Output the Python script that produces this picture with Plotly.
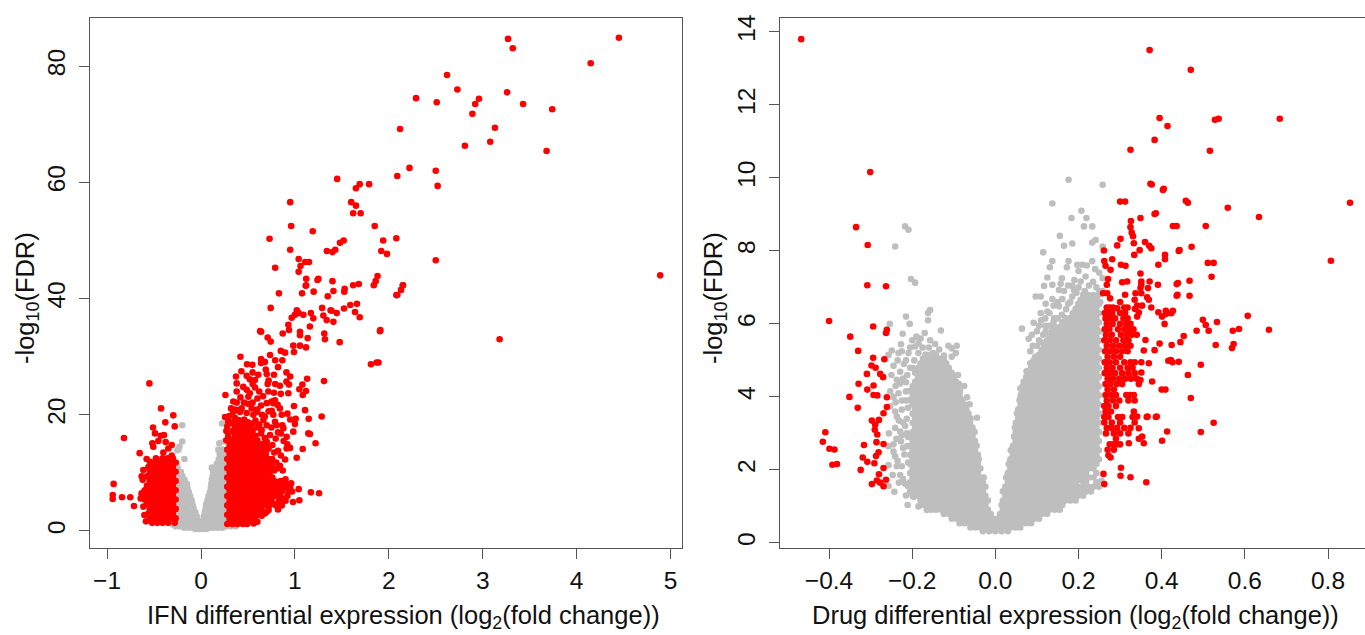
import plotly.graph_objects as go

# ---------- tick labels ----------
IFN_X_TICKS = [-1, 0, 1, 2, 3, 4, 5]
IFN_Y_TICKS = [0, 20, 40, 60, 80]
DRUG_X_TICKS = [-0.4, -0.2, 0.0, 0.2, 0.4, 0.6, 0.8]
DRUG_X_TEXT = ["−0.4", "−0.2", "0.0", "0.2", "0.4", "0.6", "0.8"]
DRUG_Y_TICKS = [0, 2, 4, 6, 8, 10, 12, 14]

# ---------- IFN panel : rows of (y, [x, ...]) ----------
IFN_GRAY_ROWS = [
 (.35,[-.06,-.02,.02,.06]),
 (.55,[-.18,-.13,-.09,.09,.13,.18,.23]),
 (.8,[-.27,-.23,.27,.32,.37]),
 (1.1,[-.30,-.25,-.20,-.15,-.10,-.05,0,.05,.10,.15,.20,.25,.30,.35]),
 (1.8,[-.27,-.22,-.17,-.12,-.07,-.03,.03,.07,.12,.17,.22,.27]),
 (2.5,[-.29,-.25,-.20,-.15,-.10,-.045,.03,.06,.10,.15,.20,.25]),
 (3.2,[-.27,-.22,-.17,-.12,-.06,.04,.08,.12,.17,.22,.27]),
 (3.9,[-.25,-.20,-.15,-.08,.05,.10,.15,.20,.25]),
 (4.6,[-.27,-.22,-.17,-.13,-.09,.055,.10,.13,.18,.23,.27]),
 (5.3,[-.25,-.20,-.15,-.10,.07,.12,.17,.22,.26]),
 (6.0,[-.27,-.22,-.17,-.115,.08,.13,.18,.23,.27]),
 (6.7,[-.25,-.20,-.16,-.13,.095,.14,.19,.24]),
 (7.4,[-.27,-.22,-.18,-.145,.105,.15,.20,.25]),
 (8.1,[-.25,-.20,-.15,.11,.16,.21,.26]),
 (8.8,[-.27,-.22,-.175,.115,.17,.22,.26]),
 (9.5,[-.25,-.20,.125,.18,.23]),
 (10.2,[-.26,-.215,.13,.19,.24]),
 (10.9,[-.25,.115,.15,.20,.25]),
 (11.6,[-.255,.17,.22,.26]),
 (12.4,[-.177,.19,.24]),
 (13.2,[.20,.25]),
 (14.0,[-.24,.23,.185]),
]
IFN_GRAY_SCATTER_X = [-.20, .224, -.20, -.23, -.252, .195, .25]
IFN_GRAY_SCATTER_Y = [18.2, 18.5, 15.4, 14.5, 13.9, 15.1, 15.4]

IFN_RED_ROWS = [
 (1.2,[.28,.335,.39,.445,.49]),
 (2.0,[.305,.36,.415,.47,.525,.57]),
 (2.8,[.28,.335,.39,.445,.50,.555,.62]),
 (3.6,[.305,.36,.415,.47,.525,.58,.64,.72]),
 (4.4,[.28,.335,.39,.445,.50,.555,.61,.665,.72,.80,.86]),
 (5.2,[.305,.36,.415,.47,.525,.58,.635,.69,.75,.83,.90]),
 (6.0,[.28,.335,.39,.445,.50,.555,.61,.665,.72,.78,.84,.92]),
 (6.8,[.305,.36,.415,.47,.525,.58,.635,.69,.745,.80,.86,.93]),
 (7.6,[.28,.335,.39,.445,.50,.555,.61,.665,.72,.78,.84,.89,.95]),
 (8.4,[.305,.36,.415,.47,.525,.58,.635,.69,.75,.80]),
 (9.2,[.28,.335,.39,.445,.50,.555,.61,.665,.70]),
 (10.0,[.305,.36,.415,.47,.525,.58,.635,.68,.73]),
 (10.8,[.28,.335,.39,.445,.50,.555,.61,.665,.72,.77]),
 (11.6,[.305,.36,.415,.47,.525,.58,.635,.69,.74]),
 (12.4,[.28,.335,.39,.445,.50,.555,.61,.665,.72,.76]),
 (13.2,[.305,.36,.415,.47,.525,.58,.635,.69]),
 (14.0,[.28,.335,.39,.445,.50,.555,.61,.665,.70]),
 (14.8,[.305,.36,.415,.47,.525,.58,.635,.69]),
 (15.6,[.27,.33,.39,.445,.50,.555,.60]),
 (16.4,[.29,.36,.415,.47,.53,.58]),
 (17.2,[.27,.335,.39,.445,.50,.55]),
 (18.0,[.28,.36,.415,.47,.53]),
 (18.8,[.30,.39,.45]),
 (1.4,[-.28,-.35,-.41,-.465,-.52]),
 (2.2,[-.27,-.325,-.38,-.435,-.49,-.545]),
 (3.0,[-.30,-.355,-.41,-.465,-.52,-.56]),
 (3.8,[-.27,-.325,-.38,-.435,-.49,-.545]),
 (4.6,[-.30,-.355,-.41,-.465,-.52,-.575]),
 (5.4,[-.27,-.325,-.38,-.435,-.49,-.545,-.60]),
 (6.2,[-.30,-.355,-.41,-.465,-.52,-.575,-.63]),
 (7.0,[-.27,-.325,-.38,-.435,-.49,-.545,-.60]),
 (7.8,[-.30,-.355,-.41,-.465,-.52,-.575]),
 (8.6,[-.27,-.325,-.38,-.435,-.49,-.545]),
 (9.4,[-.30,-.355,-.41,-.465,-.52,-.575]),
 (10.2,[-.27,-.325,-.38,-.435,-.49,-.545]),
 (11.0,[-.30,-.355,-.41,-.465,-.52,-.56]),
 (11.8,[-.27,-.325,-.38,-.435,-.49]),
 (12.5,[-.30,-.355,-.41,-.48]),
]
IFN_RED_PAIRS = [
 (-.55,25.4),(-.426,21.1),(-.295,19.9),(-.38,18.7),(-.28,18),(-.511,17.8),(-.82,16),(-.49,16.8),(-.394,16.5),(-.43,16.4),
 (-.454,15.5),(-.376,15.3),(-.518,15.1),(-.508,14.5),(-.312,14.8),(-.348,14.2),(-.401,13.5),(-.653,13.4),(-.312,13),(-.579,12.4),
 (-.543,11.9),(-.472,12.3),(-.614,10.5),(-.632,9.4),(-.621,8.8),(-.93,8.1),(-.94,6.2),(-.94,5.5),(-.841,5.8),(-.753,5.8),
 (-.714,4.3),(-.603,2.75),(-.586,1.66),(-.632,6.5),(-.642,5.6),(-.614,4.2),
 (1.04,7.2),(1.17,6.65),(1.257,6.5),(1.047,5.3),(.98,5),(.82,3.7),(.7,3.3),(.646,2.6),(.68,3),
 (.83,40.9),(1.115,42.2),(1.076,40.9),(1.2,41.2),(1.526,41.2),(1.84,42.3),(2.15,42.3),(2.09,40.6),(1.24,43.2),(1.4,43),
 (1.66,39.1),(.742,38.4),(1.02,38),(.966,36.7),(1.0,37.2),(1.04,37.5),(1.09,37.2),(1.17,37.5),(1.196,36.6),(1.303,37.1),
 (1.338,36.3),(1.39,37.9),(1.445,37.5),(1.523,38.3),(1.69,36.8),(1.16,35.2),(.93,35.5),(.937,34.6),(.64,34.3),(1.906,34.4),
 (1.054,34.3),(1.054,33.7),(1.313,34),(1.32,33),(1.136,33.2),(.71,33.3),(.742,32.6),(1.477,32.5),(.983,31.9),(1.054,31.9),
 (1.118,31.6),(.99,30.8),(.85,31),(.895,30.7),(.735,30.3),(.42,30),(.64,29.6),(.79,29.4),(.866,29.4),(.49,28.7),
 (.547,28.6),(.64,28.9),(.68,29.1),(.82,28.2),(1.81,28.7),(1.89,29),(.69,27.8),(.55,27.3),(.486,26.7),(.61,26.9),
 (.7,27),(.777,26.9),(.91,27.3),(.373,26.6),(.95,26.6),(1.13,26.2),(1.31,25.8),(.575,26),(.71,25.3),(.79,25.3),
 (.91,25.7),(.937,25.2),(.84,25),(1.08,25.2),(1.047,24.4),(1.118,24.1),(1.083,23.4),(.38,25.4),(.38,24),(.486,24.3),
 (.52,23.7),(.575,24.7),(.717,24),(.777,23.8),(.93,23.7),(.26,23.4),(.6,22.8),(.504,23.1),(.788,22.5),(.344,22.3),
 (.38,22.1),(.458,22.1),(.55,22.1),(.7,22),(.753,22.3),(.816,21.7),(.99,21.5),(.32,21.1),(.433,21.1),(.54,21.1),
 (.84,21.1),(1.108,20.8),(.344,20.5),(.415,20.5),(.486,20.3),(.593,20.5),(.753,20.7),(.68,19.7),(.77,20),(.557,20),
 (.256,19.6),(1.008,19.3),(1.147,19.3),(1.285,19.7),(.4,19.1),(.29,18.8),(.664,19.1),(.788,18.8),(1.0,18.4),(.866,18.2),
 (.877,17.7),(.806,18.2),(.983,17.1),(.912,16.2),(1.143,16.8),(1.16,16.7),(.646,17.4),(.735,16.5),(.795,15.9),(1.22,15.1),
 (.948,14.3),(.912,14.2),(1.083,14.1),(1.019,12.6),(.895,12.3),(.816,10.8),(.87,10.4),(.7,9.6),(.795,8.5),(.9,8.3),(.948,7),
 (.30,19.8),(.33,18.6),(.36,19.5),(.42,18.5),(.46,19.2),(.5,18.7),(.55,18.5),(.58,19),(.6,17.8),(.62,18.3),(.64,16.8),(.68,16),
 (.7,15.4),(.66,15),(.72,14.2),(.76,14.8),(.78,13.5),(.82,13.8),(.85,13),(.74,12),(.8,11.8),(.84,11.2),(.78,10.4),(.72,9.8),
 (.76,9.2),(.85,8.6),(.9,8.9),(.88,7.6),(.96,8.2),(.97,6.8),(.89,5.6),(.85,5),(.78,4.6),(.72,4.2),(.6,1.6),(.56,1.3),(.52,1.7),
 (.58,2.4),(.42,23),(.45,24.8),(.55,25.3),(.62,24),(.66,23.2),(.72,25.9),(.77,22),(.85,23.6),(.86,20),(.92,20.2),(.95,19.2),
 (.43,27.5),(.52,26.1),(.6,20.9),(.64,21.6),(.5,21.9),(.4,20.8),(.36,20.9),(.65,20),(.72,20.6),(.7,18.2),(.75,17.8),(.82,17),
 (.88,15.5),(.85,16.8),(.92,14.9),
 (3.27,84.7),(3.32,83.1),(4.45,84.9),(4.15,80.5),(2.62,78.5),(2.73,76),(2.29,74.5),(2.51,73.8),(2.96,74.4),(2.92,73.5),
 (2.89,71.8),(3.26,75.5),(3.43,73.5),(3.74,72.6),(3.13,69.4),(3.08,67),(2.81,66.3),(3.68,65.4),(2.12,69.2),(2.22,62.5),
 (2.09,61.1),(2.5,62),(2.52,59.4),(4.89,44),(3.18,33),(2.5,46.6),(1.45,60.6),(1.69,59.7),(1.79,59.7),(1.65,59),
 (1.6,56.6),(1.65,56),(1.62,54.7),(1.7,54.7),(.95,56.6),(1.85,52.5),(.96,52.5),(1.19,51.6),(2.08,50.4),(1.94,50),
 (1.92,48.2),(1.52,50),(1.48,49.6),(1.43,48.4),(1.34,48.2),(1.4,48),(1.98,47.7),(.73,50.3),(.95,48.4),(1.04,46.8),
 (1.11,46.3),(1.15,46.3),(.79,45.3),(1.06,45.6),(1.04,44.6),(1.12,43.4),(1.88,43.9),(1.86,43),(2.15,42.3),(2.13,41.5),
 (2.08,40.6),(1.68,42.5),(1.62,42.3),(1.87,29),(1.91,34.6),(1.41,36),(1.64,37.7),(1.59,38.9),(1.53,41.7),(1.35,40.4),
 (1.29,38.4),(1.38,38),(1.25,43.4),(1.41,41.3),(1.12,42.3),(.87,34),(.63,34.4),
]

# ---------- Drug panel ----------
DRUG_GRAY_ROWS = [
 (.32,[-.03,-.015,0,.015,.03]),
 (.42,[-.06,-.048,-.036,-.024,-.012,0,.012,.024,.036,.048,.06]),
 (.54,[-.086,-.074,-.061,-.049,-.036,-.024,-.011,.003,.011,.024,.036,.049,.061,.074,.086]),
 (.66,[-.105,-.093,-.080,-.068,-.055,-.042,-.030,-.018,-.005,.005,.018,.030,.042,.055,.068,.080,.093,.105]),
 (.79,[-.124,-.111,-.099,-.086,-.074,-.061,-.049,-.036,-.024,-.011,.011,.024,.036,.049,.061,.074,.086,.099,.111,.124]),
 (.91,[-.155,-.143,-.130,-.118,-.105,-.093,-.080,-.068,-.055,-.042,-.030,-.018,.018,.030,.042,.055,.068,.080,.093,.105,.118,.130,.143,.155]),
 (1.04,[-.174,-.161,-.149,-.136,-.124,-.111,-.099,-.086,-.074,-.061,-.049,-.036,-.024,.015,.024,.036,.049,.061,.074,.086,.099,.111,.124,.136,.149,.161]),
 (1.16,[-.180,-.168,-.155,-.143,-.130,-.118,-.105,-.093,-.080,-.068,-.055,-.042,-.030,-.018,.018,.030,.042,.055,.068,.080,.093,.105,.118,.130,.143,.155,.168,.180,.193]),
 (1.29,[-.199,-.186,-.174,-.161,-.149,-.136,-.124,-.111,-.099,-.086,-.074,-.061,-.049,-.036,-.024,.024,.036,.049,.061,.074,.086,.099,.111,.124,.136,.149,.161,.174,.186,.199,.211]),
 (1.41,[-.205,-.193,-.180,-.168,-.155,-.143,-.130,-.118,-.105,-.093,-.080,-.068,-.055,-.042,-.030,.018,.030,.042,.055,.068,.080,.093,.105,.118,.130,.143,.155,.168,.180,.193,.205,.218,.230]),
 (1.54,[-.199,-.186,-.174,-.161,-.149,-.136,-.124,-.111,-.099,-.086,-.074,-.061,-.049,-.036,-.024,.024,.036,.049,.061,.074,.086,.099,.111,.124,.136,.149,.161,.174,.186,.199,.211,.224,.236,.249]),
 (1.66,[-.205,-.193,-.180,-.168,-.155,-.143,-.130,-.118,-.105,-.093,-.080,-.068,-.055,-.042,-.030,.030,.042,.055,.068,.080,.093,.105,.118,.130,.143,.155,.168,.180,.193,.218,.243]),
 (1.79,[-.199,-.186,-.174,-.161,-.149,-.136,-.124,-.111,-.099,-.086,-.074,-.061,-.049,-.036,-.028,.026,.036,.049,.061,.074,.086,.099,.111,.124,.136,.149,.161,.174,.199,.236]),
 (1.91,[-.205,-.193,-.180,-.168,-.155,-.143,-.130,-.118,-.105,-.093,-.080,-.068,-.055,-.042,.030,.042,.055,.068,.080,.093,.105,.118,.130,.143,.155,.168,.205,.218,.243]),
 (2.04,[-.199,-.186,-.174,-.161,-.149,-.136,-.124,-.111,-.099,-.086,-.074,-.061,-.049,-.036,.036,.049,.061,.074,.086,.099,.111,.124,.136,.149,.161,.186,.211,.236]),
 (2.16,[-.205,-.193,-.180,-.168,-.155,-.143,-.130,-.118,-.105,-.093,-.080,-.068,-.055,-.042,.032,.042,.055,.068,.080,.093,.105,.118,.130,.143,.155,.180,.193,.218,.243]),
 (2.29,[-.199,-.186,-.174,-.161,-.149,-.136,-.124,-.111,-.099,-.086,-.074,-.061,-.049,-.040,.036,.049,.061,.074,.086,.099,.111,.124,.136,.149,.161,.174,.199,.224,.249]),
 (2.41,[-.205,-.193,-.180,-.168,-.155,-.143,-.130,-.118,-.105,-.093,-.080,-.068,-.055,-.042,.042,.055,.068,.080,.093,.105,.118,.130,.143,.155,.168,.193,.205,.230,.243]),
 (2.54,[-.199,-.186,-.174,-.161,-.149,-.136,-.124,-.111,-.099,-.086,-.074,-.061,-.049,.037,.049,.061,.074,.086,.099,.111,.124,.136,.149,.161,.174,.186,.211,.224,.249]),
 (2.66,[-.205,-.193,-.180,-.168,-.155,-.143,-.130,-.118,-.105,-.093,-.080,-.068,-.055,-.045,.042,.055,.068,.080,.093,.105,.118,.130,.143,.155,.168,.180,.205,.230,.243]),
 (2.79,[-.199,-.186,-.174,-.161,-.149,-.136,-.124,-.111,-.099,-.086,-.074,-.061,-.049,.049,.061,.074,.086,.099,.111,.124,.136,.149,.161,.174,.186,.199,.224,.236,.249]),
 (2.91,[-.205,-.193,-.180,-.168,-.155,-.143,-.130,-.118,-.105,-.093,-.080,-.068,-.055,.045,.055,.068,.080,.093,.105,.118,.130,.143,.155,.168,.180,.193,.218,.243]),
 (3.04,[-.199,-.186,-.174,-.161,-.149,-.136,-.124,-.111,-.099,-.086,-.074,-.061,-.050,.049,.061,.074,.086,.099,.111,.124,.136,.149,.161,.174,.186,.199,.211,.236,.249]),
 (3.16,[-.193,-.180,-.168,-.155,-.143,-.130,-.118,-.105,-.093,-.080,-.068,-.055,.047,.055,.068,.080,.093,.105,.118,.130,.143,.155,.168,.180,.193,.205,.218,.230,.243]),
 (3.29,[-.199,-.186,-.174,-.161,-.149,-.136,-.124,-.111,-.099,-.086,-.074,-.061,.049,.061,.074,.086,.099,.111,.124,.136,.149,.161,.174,.186,.199,.211,.224,.236,.249]),
 (3.41,[-.193,-.180,-.168,-.155,-.143,-.130,-.118,-.105,-.093,-.080,-.068,-.060,.055,.068,.080,.093,.105,.118,.130,.143,.155,.168,.180,.193,.205,.218,.230,.243]),
 (3.54,[-.199,-.186,-.174,-.161,-.149,-.136,-.124,-.111,-.099,-.086,-.074,-.065,.052,.061,.074,.086,.099,.111,.124,.136,.149,.161,.174,.186,.199,.211,.224,.236,.249]),
 (3.66,[-.193,-.180,-.168,-.155,-.143,-.130,-.118,-.105,-.093,-.080,-.070,.055,.068,.080,.093,.105,.118,.130,.143,.155,.168,.180,.193,.205,.218,.230,.243]),
 (3.79,[-.199,-.186,-.174,-.161,-.149,-.136,-.124,-.111,-.099,-.086,-.074,.061,.074,.086,.099,.111,.124,.136,.149,.161,.174,.186,.199,.211,.224,.236,.249]),
 (3.91,[-.205,-.193,-.180,-.168,-.155,-.143,-.130,-.118,-.105,-.093,-.080,.058,.068,.080,.093,.105,.118,.130,.143,.155,.168,.180,.193,.205,.218,.230,.243]),
 (4.04,[-.199,-.186,-.174,-.161,-.149,-.136,-.124,-.111,-.099,-.086,.061,.074,.086,.099,.111,.124,.136,.149,.161,.174,.186,.199,.211,.224,.236,.249]),
 (4.16,[-.205,-.193,-.180,-.168,-.155,-.143,-.130,-.118,-.105,-.093,-.085,.068,.080,.093,.105,.118,.130,.143,.155,.168,.180,.193,.205,.218,.230,.243]),
 (4.29,[-.199,-.186,-.174,-.161,-.149,-.136,-.124,-.111,-.099,-.090,.066,.074,.086,.099,.111,.124,.136,.149,.161,.174,.186,.199,.211,.224,.236,.249]),
 (4.41,[-.193,-.180,-.168,-.155,-.143,-.130,-.118,-.105,-.095,.068,.080,.093,.105,.118,.130,.143,.155,.168,.180,.193,.205,.218,.230,.243]),
 (4.54,[-.186,-.174,-.161,-.149,-.136,-.124,-.111,-.100,.074,.086,.099,.111,.124,.136,.149,.161,.174,.186,.199,.211,.224,.236,.249]),
 (4.66,[-.193,-.180,-.168,-.155,-.143,-.130,-.118,-.105,.080,.093,.105,.118,.130,.143,.155,.168,.180,.193,.205,.218,.230,.243]),
 (4.79,[-.199,-.186,-.174,-.161,-.149,-.136,-.124,-.112,.086,.099,.111,.124,.136,.149,.161,.174,.186,.199,.211,.224,.236,.249]),
 (4.91,[-.180,-.168,-.155,-.143,-.130,-.118,.093,.105,.118,.130,.143,.155,.168,.180,.193,.205,.218,.230,.243]),
 (5.04,[-.174,-.161,-.149,-.136,-.124,.099,.111,.124,.136,.149,.161,.174,.186,.199,.211,.224,.236,.249]),
 (5.16,[-.168,-.155,-.143,.105,.118,.130,.143,.155,.168,.180,.193,.205,.218,.230,.243]),
 (5.29,[.111,.124,.136,.149,.161,.174,.186,.199,.211,.224,.236,.249]),
 (5.41,[.118,.130,.143,.155,.168,.180,.193,.205,.218,.230,.243]),
 (5.54,[.124,.136,.149,.161,.174,.186,.199,.211,.224,.236,.249]),
 (5.66,[.130,.143,.155,.168,.180,.193,.205,.218,.230,.243]),
 (5.79,[.136,.149,.161,.174,.186,.199,.211,.224,.236,.249]),
 (5.91,[.143,.155,.168,.180,.193,.205,.218,.230,.243]),
 (6.04,[.161,.174,.186,.199,.211,.224,.236,.249]),
 (6.16,[.168,.180,.193,.205,.218,.230,.243]),
 (6.29,[.186,.199,.211,.224,.236,.249]),
 (6.41,[.193,.205,.218,.230,.243]),
 (6.54,[.199,.211,.224,.236,.249]),
 (6.66,[.205,.218,.230,.243]),
 (6.79,[.211,.224,.236,.249]),
 (6.9,[.215,.250]),
]
DRUG_GRAY_PAIRS = [
 (-.217,8.67),(-.209,8.58),(-.241,8.12),(-.203,7.23),(-.193,7.13),(-.157,6.38),(-.162,6.3),(-.162,6.1),(-.215,6.2),(-.206,6.0),
 (-.254,6.0),(-.131,5.82),(-.223,5.73),(-.2,5.55),(-.157,5.55),(-.227,5.44),(-.185,5.47),(-.193,5.38),(-.093,5.4),(-.105,5.33),
 (-.113,5.4),(-.249,5.27),(-.257,5.15),(-.233,5.2),(-.209,5.2),(-.124,5.13),(-.245,4.85),(-.229,4.69),(-.237,4.47),(-.229,4.37),
 (-.253,4.15),(-.245,4.0),(-.233,4.1),(-.253,3.74),(-.241,3.6),(-.237,3.46),(-.225,3.65),(-.217,3.2),(-.241,3.15),(-.256,3.0),
 (-.229,3.05),(-.227,2.78),(-.245,2.7),(-.257,2.65),(-.245,2.5),(-.241,2.37),(-.219,2.42),(-.257,2.13),(-.237,2.1),(-.247,1.86),
 (-.229,1.86),(-.217,1.62),(-.257,1.56),(-.243,1.4),(-.211,1.04),(-.197,1.26),(-.185,1.0),(-.165,.9),(-.044,3.43),(-.06,3.4),
 (-.068,3.99),(-.088,4.36),(-.215,4.4),(-.212,4.6),(-.205,4.8),(-.195,5.0),(-.215,3.9),(-.213,3.4),(-.21,2.9),(-.21,2.2),
 (-.25,4.6),(-.22,4.9),(-.24,4.3),(-.222,4.5),(-.215,4.15),(-.225,3.9),(-.24,3.85),(-.232,3.35),(-.222,3.3),(-.225,2.95),
 (-.238,2.85),(-.222,2.6),(-.235,2.25),(-.225,2.1),(-.232,1.65),(-.222,1.75),(-.215,1.3),(-.21,1.55),(-.235,5.0),(-.215,5.0),
 (-.225,5.25),(-.205,5.35),(-.18,5.6),(-.17,5.75),(-.19,5.65),(-.145,5.45),(-.135,5.3),(-.15,5.2),(-.185,5.2),(-.175,5.35),
 (-.16,5.35),(-.21,3.7),(-.213,3.0),(-.212,2.65),(-.105,5.1),(-.095,5.2),(-.09,4.6),(-.075,4.3),(-.062,3.8),
 (.137,9.3),(.176,9.95),(.258,9.81),(.207,9.1),(.183,8.9),(.219,8.9),(.213,8.67),(.233,8.67),(.155,8.41),(.185,8.2),
 (.165,8.14),(.241,8.3),(.233,8.23),(.258,8.12),(.115,7.96),(.137,7.72),(.131,7.55),(.176,7.72),(.172,7.55),(.197,7.62),
 (.209,7.62),(.233,7.72),(.125,7.27),(.217,7.3),(.205,7.16),(.258,7.25),(.117,7.04),(.137,7.07),(.157,7.1),(.185,7.04),
 (.189,6.93),(.153,6.93),(.097,6.75),(.109,6.75),(.137,6.68),(.161,6.68),(.121,6.55),(.153,6.48),(.109,6.3),(.125,6.34),
 (.141,6.15),(.092,6.03),(.064,5.87),(.121,5.8),(.1,5.8),(.088,5.7),(.08,5.59),(.109,5.5),(.084,5.25),(.096,5.1),
 (.084,4.92),(.06,4.23),(.064,4.1),(.08,4.46),(.258,6.9),(.252,6.6),(.255,1.7),
 (.07,4.4),(.075,4.7),(.085,4.75),(.092,5.0),(.09,5.4),(.1,5.4),(.105,5.55),(.115,5.7),(.12,5.95),(.13,5.95),(.14,6.05),
 (.15,6.15),(.16,6.25),(.17,6.4),(.175,6.55),(.18,6.6),(.185,6.75),(.195,6.85),(.2,7.0),(.225,7.05),(.235,7.15),(.243,7.0),
 (.25,7.4),(.165,6.9),(.175,7.05),(.14,6.5),(.13,6.3),(.11,6.1),(.105,5.95),(.15,6.6),(.12,6.15),(.16,7.25),(.19,7.2),(.2,7.45),
 (.22,7.6),(.24,7.5),
 (.212,1.66),(.205,1.72),(.225,1.79),(.212,1.79),(.186,1.79),(.18,1.91),(.193,1.91),(.199,2.04),(.174,2.04),(.224,2.04),
 (.168,2.16),(.205,2.16),(.23,2.16),(.186,2.29),(.211,2.29),(.236,2.29),(.18,2.41),(.218,2.41),(.199,2.54),(.236,2.54),
 (.193,2.66),(.218,2.66),(.211,2.79),(.205,2.91),(.23,2.91),(.224,3.04),
]

DRUG_RED_ROWS = [
 (6.45,[.268,.275,.283,.310,.318]),(6.3,[.263,.272,.281,.300,.312]),(6.15,[.265,.277,.288,.308,.318]),
 (6.0,[.268,.282,.300,.315,.325]),(5.85,[.263,.274,.295,.310,.322,.332]),(5.7,[.266,.280,.302,.316,.328,.340]),
 (5.55,[.262,.275,.290,.308,.320]),(5.4,[.268,.283,.298,.312,.325]),(5.25,[.264,.277,.290,.305,.318]),
 (5.1,[.270,.285,.300]),(4.95,[.263,.275,.290,.310,.325,.335]),(4.8,[.268,.282,.300,.318,.330]),
 (4.65,[.263,.275,.288,.305,.320,.335]),(4.5,[.270,.283,.298,.312,.326,.340]),(4.35,[.265,.277,.292,.305,.345]),
 (4.2,[.270,.285]),(4.05,[.265,.278,.290,.315,.325,.333]),(3.9,[.268,.283,.298,.320,.335]),
 (3.75,[.262,.272,.290]),(3.6,[.265,.278]),(3.45,[.262,.272,.295,.305,.330]),(3.3,[.262,.280,.300,.335]),
 (3.15,[.268,.280,.293,.310,.325]),(3.0,[.266,.285,.300,.320]),(2.85,[.290,.345]),(2.7,[.275,.283,.292,.300]),
 (2.55,[.270,.285]),(2.4,[.272]),
]
DRUG_RED_PAIRS = [
 (-.467,13.8),(.371,13.5),(.47,12.96),(.395,11.64),(.414,11.42),(.528,11.59),(.537,11.62),(.684,11.62),(.383,11.04),(.325,10.77),
 (.516,10.74),(-.301,10.16),(.853,9.32),(.807,7.73),(.634,8.93),(.559,9.18),(.373,9.84),(.405,9.7),(.383,9.01),(.458,9.37),(.463,9.32),
 (-.335,8.65),(-.307,8.16),(-.308,7.06),(-.263,7.03),(-.4,6.08),(-.294,5.93),(-.349,5.65),(-.261,5.84),(-.263,5.75),(-.33,5.26),
 (-.294,5.07),(-.267,5.03),(-.298,4.86),(-.288,4.8),(-.309,4.63),(-.277,4.63),(-.27,4.54),(-.329,4.36),(-.293,4.31),(-.308,4.2),
 (-.293,4.05),(-.284,4.04),(-.351,4.0),(-.261,3.99),(-.331,3.7),(-.261,3.72),(-.269,3.55),(-.297,3.35),(-.28,3.37),(-.289,3.24),
 (-.29,3.1),(-.409,3.03),(-.284,2.97),(-.415,2.77),(-.286,2.76),(-.269,2.71),(-.316,2.68),(-.399,2.58),(-.387,2.56),(-.281,2.48),
 (-.287,2.38),(-.319,2.34),(-.308,2.22),(-.291,2.18),(-.392,2.14),(-.381,2.16),(-.269,2.05),(-.324,2.0),(-.28,1.88),(-.263,1.73),
 (-.285,1.71),(-.277,1.65),(-.297,1.61),(-.269,1.55),
 (.376,9.82),(.403,9.67),(.3,9.35),(.312,9.35),(.386,9.03),(.349,8.9),(.326,8.82),(.325,8.65),(.328,8.5),(.331,8.4),
 (.301,8.33),(.333,8.21),(.293,8.15),(.36,8.24),(.37,8.14),(.375,8.07),(.347,8.02),(.261,8.01),(.334,7.89),(.443,8.02),
 (.408,7.89),(.408,7.77),(.262,7.72),(.281,7.77),(.392,7.62),(.302,7.62),(.313,7.59),(.265,7.59),(.277,7.48),(.349,7.38),
 (.271,7.23),(.305,7.14),(.317,7.16),(.351,7.16),(.371,7.16),(.391,7.07),(.436,7.09),(.351,7.07),(.367,6.98),(.349,6.98),
 (.268,7.07),(.259,6.84),(.269,6.84),(.312,6.8),(.337,6.84),(.351,6.84),(.438,6.8),(.365,6.73),(.276,6.7),(.335,6.66),
 (.369,6.66),(.3,6.6),(.341,6.5),(.353,6.5),(.375,6.45),(.293,6.43),(.313,6.43),(.336,6.41),(.392,6.32),(.41,6.36),
 (.423,6.29),(.345,6.31),(.401,6.2),(.341,6.2),(.407,6.0),
 (.361,5.56),(.395,5.46),(.445,5.5),(.383,5.28),(.357,5.27),(.351,4.95),(.369,4.92),(.416,4.99),(.426,4.95),(.351,4.67),
 (.377,4.42),(.349,4.46),(.4,4.2),(.409,4.2),(.366,3.46),(.388,3.46),(.413,3.05),(.401,2.8),(.357,2.73),(.353,2.91),
 (.345,3.14),(.341,3.46),(.333,3.6),(.321,2.73),(.363,1.66),(.325,1.8),(.301,1.84),(.302,2.06),(.26,1.89),(.262,1.61),(.277,2.34),
 (.506,8.68),(.472,8.11),(.436,8.68),(.427,8.68),(.511,7.67),(.525,7.67),(.52,7.29),(.467,7.18),(.439,7.12),(.467,6.77),
 (.436,6.77),(.607,6.22),(.499,6.11),(.533,6.05),(.506,5.97),(.513,5.81),(.484,5.81),(.586,5.86),(.571,5.81),(.658,5.84),
 (.573,5.45),(.569,5.34),(.53,5.42),(.453,5.67),(.424,5.42),(.427,6.36),(.41,6.27),(.441,4.96),(.422,5.01),(.463,4.6),
 (.494,4.88),(.47,3.97),(.494,3.04),(.525,3.29),(.364,3.45),(.386,3.45),(.441,8.0),
]


def unroll(rows):
    xs, ys = [], []
    for y, row in rows:
        xs += row
        ys += [y] * len(row)
    return xs, ys


def unzip(pairs):
    return [p[0] for p in pairs], [p[1] for p in pairs]


GRAY = "#BEBEBE"
RED = "#FF0000"
INK = "#555555"
W, H = 1365, 635

fig = go.Figure()


def dots(xs, ys, color, ax):
    fig.add_trace(go.Scatter(x=xs, y=ys, mode="markers", xaxis="x" + ax, yaxis="y" + ax,
                             marker=dict(size=6.6, color=color, line=dict(width=0)),
                             showlegend=False, hoverinfo="skip", cliponaxis=False))


gx, gy = unroll(IFN_GRAY_ROWS)
dots(gx + IFN_GRAY_SCATTER_X, gy + IFN_GRAY_SCATTER_Y, GRAY, "")
rx, ry = unroll(IFN_RED_ROWS)
px, py = unzip(IFN_RED_PAIRS)
dots(rx + px, ry + py, RED, "")
gx, gy = unroll(DRUG_GRAY_ROWS)
px, py = unzip(DRUG_GRAY_PAIRS)
dots(gx + px, gy + py, GRAY, "2")
rx, ry = unroll(DRUG_RED_ROWS)
px, py = unzip(DRUG_RED_PAIRS)
dots(rx + px, ry + py, RED, "2")

FAMILY = "Liberation Sans, Arial, sans-serif"
TICK_FONT = dict(family=FAMILY, size=24.5, color="#111111")
TITLE_FONT = dict(family=FAMILY, size=25.5, color="#111111")


def axis(mirror=True, **kw):
    return dict(showgrid=False, zeroline=False, showline=True, mirror=mirror, linecolor=INK, linewidth=1,
                ticks="outside", ticklen=10, tickwidth=1, tickcolor=INK, tickfont=TICK_FONT,
                automargin=False, **kw)


def label(text, px_x, px_y, angle=0):
    return dict(text=text, xref="paper", yref="paper", x=px_x / W, y=1 - px_y / H, xanchor="center", yanchor="middle",
                showarrow=False, textangle=angle, font=TITLE_FONT)


fig.update_layout(
    width=W, height=H, margin=dict(l=0, r=0, t=0, b=0), paper_bgcolor="white", plot_bgcolor="white",
    xaxis=axis(domain=[90 / W, 682 / W], range=[-1.182, 5.122], tickmode="array", tickvals=IFN_X_TICKS,
               ticktext=[str(v).replace("-", "−") for v in IFN_X_TICKS], anchor="y", ticklabelstandoff=1),
    yaxis=axis(domain=[1 - 548 / H, 1 - 18 / H], range=[-2.93, 88.3], tickmode="array", tickvals=IFN_Y_TICKS,
               ticktext=[str(v) for v in IFN_Y_TICKS], tickangle=-90, anchor="x", ticklabelstandoff=4),
    xaxis2=axis(domain=[780 / W, 1], range=[-0.518, 0.889], tickmode="array", tickvals=DRUG_X_TICKS,
                ticktext=DRUG_X_TEXT, anchor="y2", ticklabelstandoff=1),
    yaxis2=axis(mirror=False, domain=[1 - 548 / H, 1 - 18 / H], range=[-0.14, 14.38], tickmode="array", tickvals=DRUG_Y_TICKS,
                ticktext=[str(v) for v in DRUG_Y_TICKS], tickangle=-90, anchor="x2", ticklabelstandoff=4),
    annotations=[
        label("IFN differential expression (log<sub>2</sub>(fold change))", 403, 617),
        label("Drug differential expression (log<sub>2</sub>(fold change))", 1075, 617),
        label("-log<sub>10</sub>(FDR)", 27, 298, -90),
        label("-log<sub>10</sub>(FDR)", 715, 298, -90),
    ],
)

fig.write_html("out.html", config={"displayModeBar": False},
               post_script="document.body.style.margin='0';document.documentElement.style.overflow='hidden';")
